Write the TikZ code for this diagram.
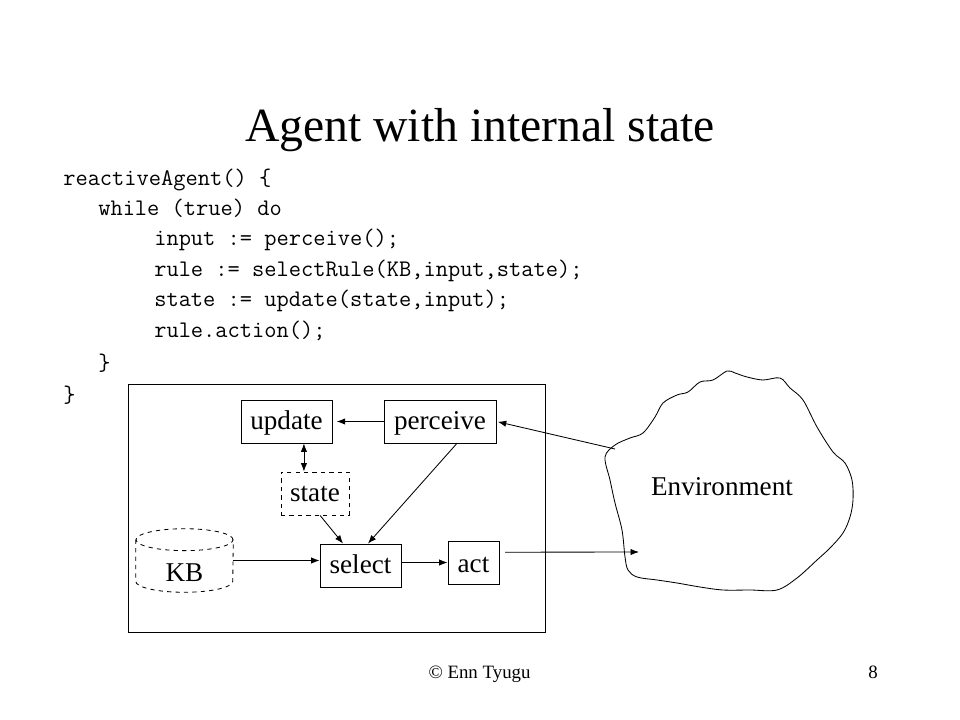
\documentclass[tikz,border=0pt]{standalone}
\usepackage{fontspec}
\setmainfont{Liberation Serif}
\usetikzlibrary{arrows.meta}

\begin{document}
\begin{tikzpicture}[x=0.025cm, y=-0.025cm,
  box/.style={draw, line width=0.6pt, minimum height=30.6pt, inner sep=0pt, text height=15pt, text depth=3pt, font=\fontsize{19.3}{22}\selectfont},
  code/.style={anchor=base west, inner sep=0pt, font=\fontsize{16.9}{20}\ttfamily},
  arr/.style={-{Latex[length=6pt, width=4.5pt]}, line width=0.6pt}]
\useasboundingbox (0,0) rectangle (960,720);

\node[anchor=base, font=\fontsize{33.9}{40}\selectfont] (title) at (480,142) {Agent with internal state};

% the code
\node[code] (l1) at (63,186) {reactiveAgent() \{};
\node[code] (l2) at (98,216) {while (true) do};
\node[code] (l3) at (154,246) {input := perceive();};
\node[code] (l4) at (154,277) {rule := selectRule(KB,input,state);};
\node[code] (l5) at (154,307) {state := update(state,input);};
\node[code] (l6) at (154,338) {rule.action();};
\node[code] (l7) at (98,371) {\}};
\node[code] (l8) at (63,403) {\}};

% the agent
\draw[line width=0.6pt] (128,384) rectangle (545,632);
\node[box, minimum width=64.7pt] (update) at (286.5,421.5) {update};
\node[box, minimum width=79.7pt] (perceive) at (440,421.5) {perceive};
\node[box, dashed, minimum width=48.4pt] (state) at (315,493.5) {state};
\node[box, minimum width=57.6pt] (select) at (360.5,565.5) {select};
\node[box, minimum width=36.3pt, text height=16pt, text depth=2pt] (act) at (473.5,562.5) {act};

\node[inner sep=0pt, minimum width=69pt, minimum height=44.8pt] (kb) at (184.5,560.5) {};
\draw[dashed, line width=0.6pt] ([yshift=-7.8pt]kb.north) ellipse[x radius=34.5pt, y radius=7.8pt];
\draw[dashed, line width=0.6pt] ([yshift=-7.8pt]kb.north west) -- ([yshift=7.8pt]kb.south west)
  arc[start angle=180, end angle=360, x radius=34.5pt, y radius=7.8pt] -- ([yshift=-7.8pt]kb.north east);
\node[font=\fontsize{19.3}{22}\selectfont] (kbtext) at (184.5,573) {KB};

% the environment
\draw[line width=0.6pt] plot[smooth cycle, tension=0.55] coordinates {
  (605,457) (615,445) (630,438) (643,433) (655,417) (663,403) (677,395) (688,392)
  (700,382) (713,380) (727,371) (735,373) (747,377) (763,380) (780,378) (790,388)
  (803,400) (817,427) (833,452) (845,463) (852,480) (853,500) (850,517) (843,533)
  (830,548) (817,560) (797,578) (777,590) (750,590) (723,590) (700,587) (677,583)
  (657,580) (637,577) (628,570) (625,557) (622,530) (615,503) (610,480)};
\node[font=\fontsize{19.3}{22}\selectfont] (env) at (722,487) {Environment};
\coordinate (envout) at (615,449);
\coordinate (envin) at (639,552);

% connectors
\draw[arr, shorten >=3pt] (perceive.west) -- (update.east);
\draw[arr, {Latex[length=6pt, width=4.5pt]}-{Latex[length=6pt, width=4.5pt]}] ([xshift=12.4pt]update.south) -- ([xshift=12.4pt]update.south |- state.north);
\draw[arr] ([xshift=3.6pt]state.south) -- ([xshift=-12.4pt]select.north);
\draw[arr] ([xshift=12pt]perceive.south) -- ([xshift=5.3pt]select.north);
\draw[arr] (kb.east) -- (kb.east -| select.west);
\draw[arr] (select.east |- act.west) -- (act.west);
\draw[arr] ([shift={(4pt,7.3pt)}]act.east) -- (envin);
\draw[arr, shorten >=1pt] (envout) -- (perceive.east);

% footer
\node[anchor=base, font=\fontsize{13.4}{16}\selectfont] (copy) at (479.5,678) {© Enn Tyugu};
\node[anchor=base, font=\fontsize{13.4}{16}\selectfont] (page) at (873,678) {8};
\end{tikzpicture}
\end{document}
